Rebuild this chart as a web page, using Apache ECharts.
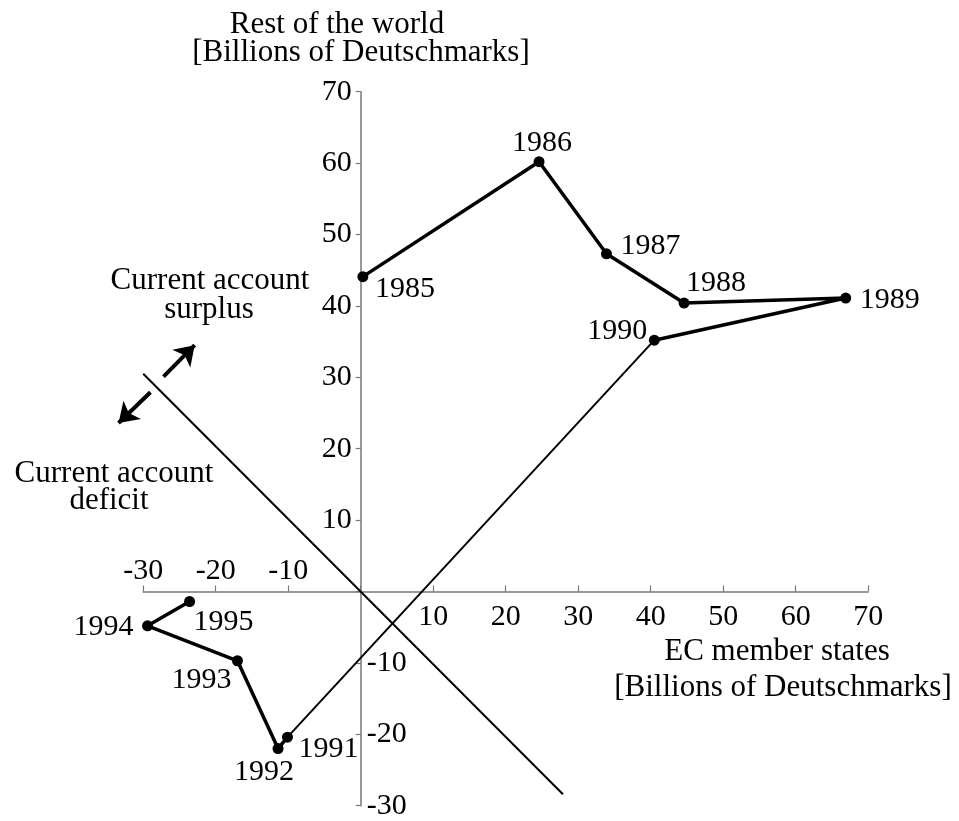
<!DOCTYPE html>
<html>
<head>
<meta charset="utf-8">
<script src="https://cdn.jsdelivr.net/npm/echarts@6/dist/echarts.min.js"></script>
<style>
html,body{margin:0;padding:0;background:#fff;}
#chart{width:959px;height:821px;}
</style>
</head>
<body>
<div id="chart"></div>
<script>
// ---- data ----
const years = ['1985','1986','1987','1988','1989','1990','1991','1992','1993','1994','1995'];
const ecMemberStates = [0.3, 24.6, 33.9, 44.6, 66.9, 40.5, -10.1, -11.4, -17.0, -29.4, -23.6];
const restOfWorld    = [44.1, 60.2, 47.3, 40.4, 41.1, 35.2, -20.4, -22.0, -9.7, -4.8, -1.4];
const xTickValues = [-30, -20, -10, 0, 10, 20, 30, 40, 50, 60, 70];
const yTickValues = [-30, -20, -10, 0, 10, 20, 30, 40, 50, 60, 70];
// boundary between surplus and deficit (x + y = 0)
const boundaryX = [-30, 27.9];
const boundaryY = [30.5, -28.4];
// direction arrows (annotation)
const surplusArrowX = [-27.2, -22.9];
const surplusArrowY = [30.1, 34.5];
const deficitArrowX = [-29.0, -33.4];
const deficitArrowY = [27.9, 23.6];

// ---- layout config for year labels: [align, dx, dy] ----
const labelPlacement = [
  ['left', 12, 12], ['center', 3, -19], ['left', 14, -8], ['center', 32, -20],
  ['left', 14, 2], ['right', -7, -9], ['left', 11, 12], ['center', -14, 24],
  ['center', -36, 19], ['right', -14, 1], ['left', 4, 21]
];

const FONT = "'Liberation Serif','Times New Roman',serif";
const AXIS_COLOR = '#777';

function points(from, to, withLabels) {
  const out = [];
  for (let i = from; i <= to; i++) {
    const item = { name: years[i], value: [ecMemberStates[i], restOfWorld[i]] };
    if (withLabels) {
      const p = labelPlacement[i];
      item.label = { show: true, position: 'inside', align: p[0], verticalAlign: 'middle', offset: [p[1], p[2]] };
    }
    out.push(item);
  }
  return out;
}

const xMin = xTickValues[0], xMax = xTickValues[xTickValues.length - 1];
const yMin = yTickValues[0], yMax = yTickValues[yTickValues.length - 1];

const chart = echarts.init(document.getElementById('chart'), null, { renderer: 'canvas' });

const labelText = { fontFamily: FONT, fontSize: 30, color: '#000' };

// tick-label series: text placed through the axes' scales at the zero-crossing axes
function tickLabelSeries(data, align, vAlign, dx, dy) {
  return {
    type: 'custom', silent: true, clip: false, z: 1,
    data: data,
    renderItem: function (params, api) {
      const pt = api.coord([api.value(0), api.value(1)]);
      return {
        type: 'text', x: pt[0] + dx, y: pt[1] + dy,
        style: { text: String(api.value(2)), font: '30px ' + FONT, fill: '#000',
          align: align, verticalAlign: vAlign, opacity: 1 }
      };
    }
  };
}
const xNegTicks = xTickValues.filter(v => v < 0).map(v => [v, 0, v]);
const xPosTicks = xTickValues.filter(v => v > 0).map(v => [v, 0, v]);
const yPosTicks = yTickValues.filter(v => v > 0).map(v => [0, v, v]);
const yNegTicks = yTickValues.filter(v => v < 0).map(v => [0, v, v]);

const option = {
  animation: false,
  backgroundColor: '#fff',
  grid: { left: 143.2, right: 90.8, top: 91.7, bottom: 15.3, containLabel: false, outerBoundsMode: 'none' },
  xAxis: {
    type: 'value', min: xMin, max: xMax, interval: 10,
    axisLine: { onZero: true, lineStyle: { color: AXIS_COLOR, width: 1.5 } },
    axisTick: { show: true, inside: true, length: 6, lineStyle: { color: AXIS_COLOR, width: 1.2 } },
    axisLabel: { show: false },
    splitLine: { show: false }
  },
  yAxis: {
    type: 'value', min: yMin, max: yMax, interval: 10,
    axisLine: { onZero: true, lineStyle: { color: AXIS_COLOR, width: 1.5 } },
    axisTick: { show: true, inside: false, length: 5, lineStyle: { color: AXIS_COLOR, width: 1.2 } },
    axisLabel: { show: false },
    splitLine: { show: false }
  },
  series: [
    tickLabelSeries(xNegTicks, 'center', 'bottom', 0, -5),
    tickLabelSeries(xPosTicks, 'center', 'top', 0, 11),
    tickLabelSeries(yPosTicks, 'right', 'middle', -9, 0),
    tickLabelSeries(yNegTicks, 'left', 'middle', 6, 0),
    {
      type: 'line', name: 'boundary',
      data: boundaryX.map((x, i) => [x, boundaryY[i]]),
      symbol: 'none', clip: false, silent: true,
      lineStyle: { color: '#000', width: 2 }
    },
    {
      type: 'line', name: '1985-1990',
      data: points(0, 5, true), clip: false,
      symbol: 'circle', symbolSize: 11,
      itemStyle: { color: '#000' },
      lineStyle: { color: '#000', width: 3.5 },
      label: Object.assign({ formatter: '{b}' }, labelText)
    },
    {
      type: 'line', name: '1990-1991',
      data: points(5, 6, false), clip: false,
      symbol: 'none',
      lineStyle: { color: '#000', width: 2 }
    },
    {
      type: 'line', name: '1991-1995',
      data: points(6, 10, true), clip: false,
      symbol: 'circle', symbolSize: 11,
      itemStyle: { color: '#000' },
      lineStyle: { color: '#000', width: 3.5 },
      label: Object.assign({ formatter: '{b}' }, labelText)
    },
    {
      type: 'lines', coordinateSystem: 'cartesian2d',
      clip: false, silent: true,
      symbol: ['none', 'arrow'], symbolSize: 19,
      lineStyle: { color: '#000', width: 4, opacity: 1 },
      data: [
        { coords: [[surplusArrowX[0], surplusArrowY[0]], [surplusArrowX[1], surplusArrowY[1]]] },
        { coords: [[deficitArrowX[0], deficitArrowY[0]], [deficitArrowX[1], deficitArrowY[1]]] }
      ]
    }
  ],
  graphic: [
    { type: 'text', x: 337, y: 25, style: { text: 'Rest of the world', font: "31px " + FONT, fill: '#000', textAlign: 'center', textVerticalAlign: 'middle' } },
    { type: 'text', x: 361, y: 53, style: { text: '[Billions of Deutschmarks]', font: "31px " + FONT, fill: '#000', textAlign: 'center', textVerticalAlign: 'middle' } },
    { type: 'text', x: 777, y: 652, style: { text: 'EC member states', font: "31px " + FONT, fill: '#000', textAlign: 'center', textVerticalAlign: 'middle' } },
    { type: 'text', x: 783, y: 688, style: { text: '[Billions of Deutschmarks]', font: "31px " + FONT, fill: '#000', textAlign: 'center', textVerticalAlign: 'middle' } },
    { type: 'text', x: 210, y: 281, style: { text: 'Current account', font: "31px " + FONT, fill: '#000', textAlign: 'center', textVerticalAlign: 'middle' } },
    { type: 'text', x: 209, y: 310, style: { text: 'surplus', font: "31px " + FONT, fill: '#000', textAlign: 'center', textVerticalAlign: 'middle' } },
    { type: 'text', x: 114, y: 474, style: { text: 'Current account', font: "31px " + FONT, fill: '#000', textAlign: 'center', textVerticalAlign: 'middle' } },
    { type: 'text', x: 109, y: 501, style: { text: 'deficit', font: "31px " + FONT, fill: '#000', textAlign: 'center', textVerticalAlign: 'middle' } }
  ]
};

chart.setOption(option);
</script>
</body>
</html>
